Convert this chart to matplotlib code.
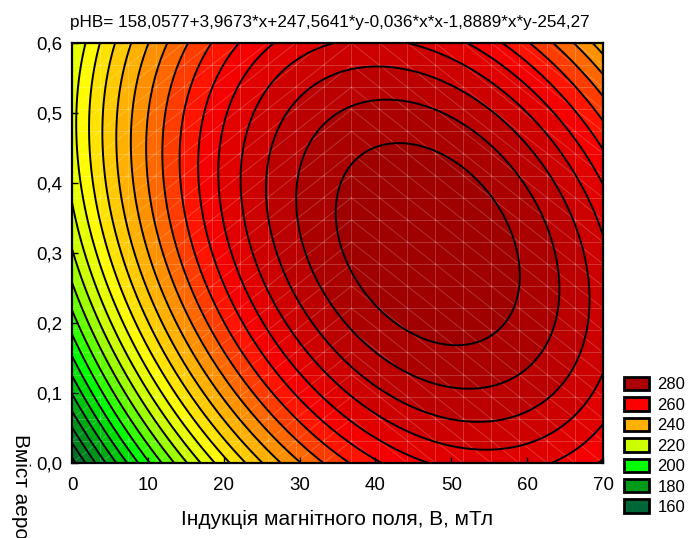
import numpy as np
import matplotlib
matplotlib.use("Agg")
import matplotlib.pyplot as plt
from matplotlib.colors import LinearSegmentedColormap
from matplotlib.patches import Patch

plt.rcParams['font.family'] = ['Liberation Sans', 'DejaVu Sans']

# Fitted surface coefficients (from title): b0, bx, by, bxx, bxy, byy
coef_names = ["b0", "bx", "by", "bxx", "bxy", "byy"]
coef_values = [158.0577, 3.9673, 247.5641, -0.036, -1.8889, -254.2735]

# title is cut off at the right edge in the reference
title_text = "pHB= 158,0577+3,9673*x+247,5641*y-0,036*x*x-1,8889*x*y-254,27"
x_label = "Індукція магнітного поля, В, мТл"
y_label = "Вміст аеросилу, %"

x_ticks = [0, 10, 20, 30, 40, 50, 60, 70]
y_ticks = [0.0, 0.1, 0.2, 0.3, 0.4, 0.5, 0.6]
y_tick_labels = ["0,0", "0,1", "0,2", "0,3", "0,4", "0,5", "0,6"]

legend_levels = [280, 260, 240, 220, 200, 180, 160]
legend_colors = ["#AA0000", "#FF0000", "#FFB000", "#CCFF00", "#00FF00", "#009A1A", "#006638"]

# colour anchors of the smooth surface colouring
cmap_values = [155, 175, 193, 212, 222, 240, 260, 280, 292]
cmap_colors = ["#005a30", "#009A1A", "#00FF00", "#CCFF00", "#FFFF00", "#FFA500",
               "#FF0000", "#B00000", "#960000"]

line_levels = np.arange(160, 290, 5)
fill_levels = np.arange(155, 295, 5)

b0, bx, by, bxx, bxy, byy = coef_values
xg = np.linspace(0, 70, 400)
yg = np.linspace(0, 0.6, 400)
X, Y = np.meshgrid(xg, yg)
Z = b0 + bx * X + by * Y + bxx * X * X + bxy * X * Y + byy * Y * Y

vmin, vmax = cmap_values[0], cmap_values[-1]
cmap = LinearSegmentedColormap.from_list(
    "stat", [((v - vmin) / (vmax - vmin), c) for v, c in zip(cmap_values, cmap_colors)])

fig = plt.figure(figsize=(6.89, 5.38), dpi=100)
ax = fig.add_axes([72 / 689, 1 - 463 / 538, (603 - 72) / 689, (463 - 43) / 538])

mids = (fill_levels[:-1] + fill_levels[1:]) / 2
band_colors = [cmap((m - vmin) / (vmax - vmin)) for m in mids]
ax.contourf(X, Y, Z, levels=fill_levels, colors=band_colors, antialiased=True)

# faint surface mesh (19 x 19 cells with diagonals)
ncell = 19
mx = np.linspace(0, 70, ncell + 1)
my = np.linspace(0, 0.6, ncell + 1)
mesh_kw = dict(color="white", alpha=0.2, lw=0.7, zorder=2)
for v in mx[1:-1]:
    ax.axvline(v, **mesh_kw)
for v in my[1:-1]:
    ax.axhline(v, **mesh_kw)
for i in range(ncell):
    for j in range(ncell):
        if i < 10:
            ax.plot([mx[i], mx[i + 1]], [my[j], my[j + 1]], **mesh_kw)
        else:
            ax.plot([mx[i], mx[i + 1]], [my[j + 1], my[j]], **mesh_kw)

ax.contour(X, Y, Z, levels=line_levels, colors="black", linewidths=1.4, zorder=3)

ax.set_xlim(0, 70)
ax.set_ylim(0, 0.6)
ax.set_xticks(x_ticks)
ax.set_xticklabels([str(v) for v in x_ticks])
ax.set_yticks(y_ticks)
ax.set_yticklabels(y_tick_labels)
ax.tick_params(direction="in", length=4, width=1, labelsize=13.5, colors="black")
ax.tick_params(axis="y", pad=7)
ax.tick_params(axis="x", pad=10)
for s in ax.spines.values():
    s.set_linewidth(1.6)
    s.set_zorder(5)

ax.set_xlabel(x_label, fontsize=15, va="top")
ax.xaxis.set_label_coords(0.5, (463 - 510) / 420)

fig.text(11 / 689, 1 - 434 / 538, y_label, rotation=270, fontsize=15,
         ha="left", va="top")

fig.text(70 / 689, 1 - 27 / 538, title_text, fontsize=12.3, ha="left", va="baseline")

handles = [Patch(facecolor=c, edgecolor="black", linewidth=2) for c in legend_colors]
fig.legend(handles, [str(v) for v in legend_levels], loc="upper left",
           bbox_to_anchor=(624 / 689, 1 - 377 / 538), frameon=False, fontsize=12,
           handlelength=1.5, handleheight=0.85, labelspacing=0.3, handletextpad=0.5,
           borderpad=0.0, borderaxespad=0.0)

fig.savefig("out.png", dpi=100)
